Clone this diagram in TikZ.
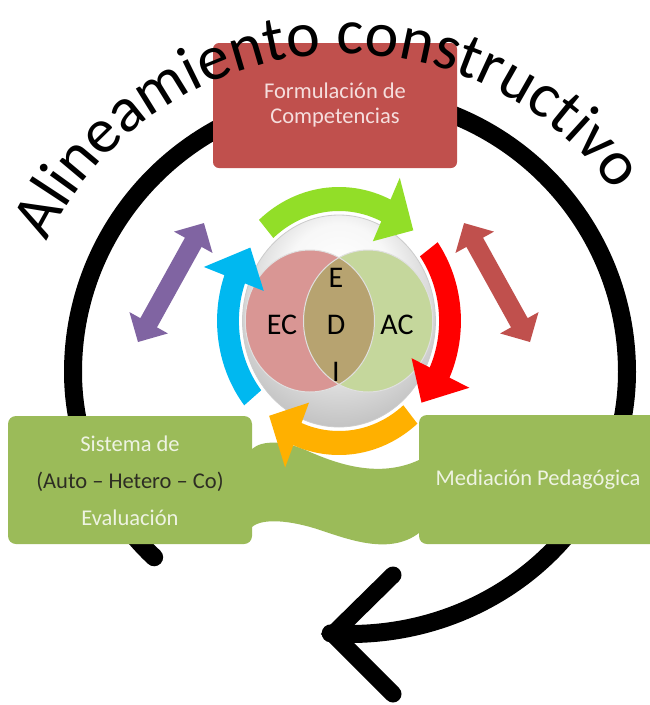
\documentclass[tikz,border=0pt]{standalone}
\usepackage{fontspec}
\setmainfont{Carlito}
\usepackage{tikz}
\usetikzlibrary{decorations.text,calc}

\definecolor{boxred}{RGB}{192,80,77}
\definecolor{boxgreen}{RGB}{155,187,89}
\definecolor{lighttext}{RGB}{238,243,226}
\definecolor{pinktext}{RGB}{245,222,221}
\definecolor{darktext}{RGB}{45,45,35}
\definecolor{vennleft}{RGB}{217,150,148}
\definecolor{vennright}{RGB}{197,215,156}
\definecolor{vennmid}{RGB}{183,163,112}
\definecolor{arrgreen}{RGB}{146,222,40}
\definecolor{arrred}{RGB}{255,0,0}
\definecolor{arrorange}{RGB}{255,176,0}
\definecolor{arrcyan}{RGB}{0,184,240}
\definecolor{arrpurple}{RGB}{128,100,162}
\definecolor{arrbrown}{RGB}{192,80,77}

\pgfdeclareradialshading{sphereshade}{\pgfpoint{0bp}{12bp}}{%
  color(0bp)=(white); color(14bp)=(white!97!black); color(34bp)=(black!28);
  color(48bp)=(black!42); color(56bp)=(black!22)}

\newcommand{\titlefont}{\fontsize{64}{64}\selectfont}
% colour, tail angle, head base angle, tip angle
\newcommand{\cycarrow}[4]{%
  \fill[#1] (#2:134) arc[start angle=#2, end angle=#3, radius=134] -- (#3:158) -- (#4:122)
    -- (#3:88) -- (#3:110) arc[start angle=#3, end angle=#2, radius=110] -- cycle;}

\tikzset{
  boxtext/.style={font=\fontsize{22.5}{25}\selectfont, align=center, inner sep=0pt},
  venntext/.style={font=\fontsize{30}{47}\selectfont, align=center, inner sep=0pt},
  ring/.style={line width=18pt, line cap=round},
  dblarrow/.pic={\fill[#1] (0,0) -- (22,22) -- (22,9.5) -- (114,9.5) -- (114,22) -- (136,0)
    -- (114,-22) -- (114,-9.5) -- (22,-9.5) -- (22,-22) -- cycle;}
}

\begin{document}
\begin{tikzpicture}[x=1pt,y=1pt]
\path[use as bounding box, fill=white] (0,0) rectangle (649,-705);

%Shape: Ring with arrow
\coordinate (ringc) at (350,-372);
\draw[ring] ([shift={(225:277 and 262)}]ringc) arc[start angle=225, end angle=180, x radius=277, y radius=262]
  arc[start angle=180, end angle=0, radius=277]
  arc[start angle=0, end angle=-94, x radius=277, y radius=262];
\coordinate (arrowtip) at (333,-634);
\coordinate (arrowup) at (393,-575);
\coordinate (arrowdown) at (393,-694);
\draw[line width=17pt, line cap=round, line join=miter] (arrowup) -- (arrowtip) -- (arrowdown);

%Shape: Rectangle
\fill[boxred, rounded corners=6] (213,-43) rectangle (457,-168);
%Shape: Rectangles with wave
\fill[boxgreen, rounded corners=8] (8,-416) rectangle (252,-544);
\fill[boxgreen, rounded corners=8] (419,-415) rectangle (680,-544);
\fill[boxgreen] (245,-449) -- (252,-449) .. controls (262,-440) and (285,-440) .. (310,-452)
  .. controls (340,-465) and (380,-478) .. (419,-460) -- (426,-460) -- (426,-533) -- (419,-533)
  .. controls (390,-555) and (350,-540) .. (320,-530) .. controls (290,-520) and (262,-518) .. (252,-527)
  -- (245,-527) -- cycle;

%Shape: Sphere, Venn and cycle
\begin{scope}[shift={(339,-321)}, xscale=0.91]
\shade[shading=sphereshade] (0,0) circle[radius=106];
\draw[white!80!black, line width=0.8pt] (0,0) circle[radius=106];
\fill[vennleft] (-32,0) circle[radius=71];
\fill[vennright] (32,0) circle[radius=71];
\begin{scope}
\clip (-32,0) circle[radius=71];
\fill[vennmid] (32,0) circle[radius=71];
\end{scope}
\draw[white!88!black, line width=1pt] (-32,0) circle[radius=71] (32,0) circle[radius=71];
\cycarrow{arrgreen}{131}{65}{48}
\cycarrow{arrred}{36}{-25}{-42}
\cycarrow{arrorange}{-50}{-112}{-129}
\cycarrow{arrcyan}{-141}{-200}{-217}
\end{scope}

%Shape: Double arrows
\pic[rotate=61] (purplearr) at (138,-342) {dblarrow=arrpurple};
\pic[rotate=119] (brownarr) at (530,-342) {dblarrow=arrbrown};

% Text Node
\node[boxtext, text=pinktext] (formul) at (335,-105) {Formulación de\\Competencias};
% Text Node
\node[boxtext, text=lighttext, font=\fontsize{22.5}{37}\selectfont] (sistema) at (130,-481)
  {Sistema de\\{\color{darktext}(Auto – Hetero – Co)}\\Evaluación};
% Text Node
\node[boxtext, text=lighttext] (mediacion) at (538,-480) {Mediación Pedagógica};
% Text Node
\node[venntext] (ec) at (282,-325) {EC};
\node[venntext] (edi) at (336,-325) {E\\D\\I};
\node[venntext] (ac) at (397,-325) {AC};

% Title on arc
\coordinate (titlec) at (345,-385);
\path[decorate, decoration={text along path, text={|\titlefont|Alineamiento constructivo},
  text align={center}}] ([shift={(160:331)}]titlec) arc[start angle=160, end angle=30, radius=331];

\end{tikzpicture}
\end{document}
